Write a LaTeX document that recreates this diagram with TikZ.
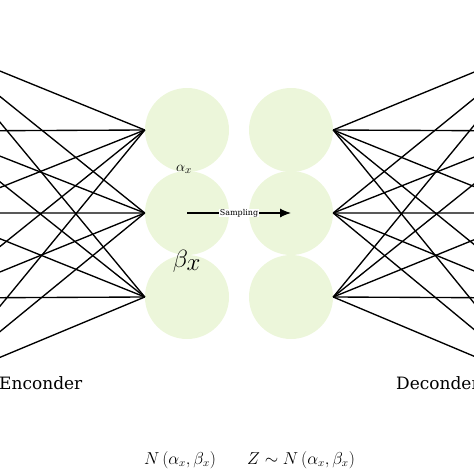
\documentclass[tikz,border=0pt]{standalone}
\usepackage{fontspec}
\setmainfont{DejaVu Serif}
\usetikzlibrary{arrows.meta}
\definecolor{cellgreen}{RGB}{236,246,218}

\begin{document}
\begin{tikzpicture}[
  x=1pt, y=-1pt,
  cell/.style={circle, fill=cellgreen, minimum size=84pt, inner sep=0pt},
  wire/.style={line width=1.35pt, line join=round}]
\useasboundingbox (0,0) rectangle (474,474);
\clip (0,0) rectangle (474,474);

\node[cell] (e1) at (187,130) {};
\node[cell] (e2) at (187,213) {};
\node[cell] (e3) at (187,297) {};
\node[cell] (d1) at (291,130) {};
\node[cell] (d2) at (291,213) {};
\node[cell] (d3) at (291,297) {};

\coordinate (i1) at (-64,45);
\coordinate (i2) at (-64,131);
\coordinate (i3) at (-64,213);
\coordinate (i4) at (-64,298);
\coordinate (i5) at (-64,384);
\coordinate (o1) at (540,45);
\coordinate (o2) at (540,131);
\coordinate (o3) at (540,213);
\coordinate (o4) at (540,298);
\coordinate (o5) at (540,384);

\draw[wire] (i1) -- (e1.west) (i1) -- (e2.west) (i1) -- (e3.west);
\draw[wire] (i2) -- (e1.west) (i2) -- (e2.west) (i2) -- (e3.west);
\draw[wire] (i3) -- (e1.west) (i3) -- (e2.west) (i3) -- (e3.west);
\draw[wire] (i4) -- (e1.west) (i4) -- (e2.west) (i4) -- (e3.west);
\draw[wire] (i5) -- (e1.west) (i5) -- (e2.west) (i5) -- (e3.west);

\draw[wire] (d1.east) -- (o1) (d2.east) -- (o1) (d3.east) -- (o1);
\draw[wire] (d1.east) -- (o2) (d2.east) -- (o2) (d3.east) -- (o2);
\draw[wire] (d1.east) -- (o3) (d2.east) -- (o3) (d3.east) -- (o3);
\draw[wire] (d1.east) -- (o4) (d2.east) -- (o4) (d3.east) -- (o4);
\draw[wire] (d1.east) -- (o5) (d2.east) -- (o5) (d3.east) -- (o5);

\draw[line width=1.1pt, -{Latex[length=11pt,width=9pt]}] (e2.center) -- (d2.center)
  node (samp) [midway, fill=white, inner sep=0.5pt, font=\fontsize{8}{9}\selectfont] {Sampling};

   \begin{scope}[nodes = {inner sep = 0pt}]
      \node (alpha) at (184,169) {\fontsize{15}{17}\selectfont$\alpha_x$};
      \node (beta) at (187,261) {\fontsize{36}{40}\selectfont$\beta_x$};
      \node (enc) [anchor=base west] at (-1,389) {\fontsize{17}{19}\selectfont Enconder};
      \node (dec) [anchor=base west] at (396,389) {\fontsize{17}{19}\selectfont Deconder};
      \node (nab) at (180,460) {\fontsize{16}{19}\selectfont$N\left(\alpha_x,\beta_x\right)$};
      \node (zab) at (301,460) {\fontsize{16}{19}\selectfont$Z\sim N\left(\alpha_x,\beta_x\right)$};
   \end{scope}
\end{tikzpicture}
\end{document}
